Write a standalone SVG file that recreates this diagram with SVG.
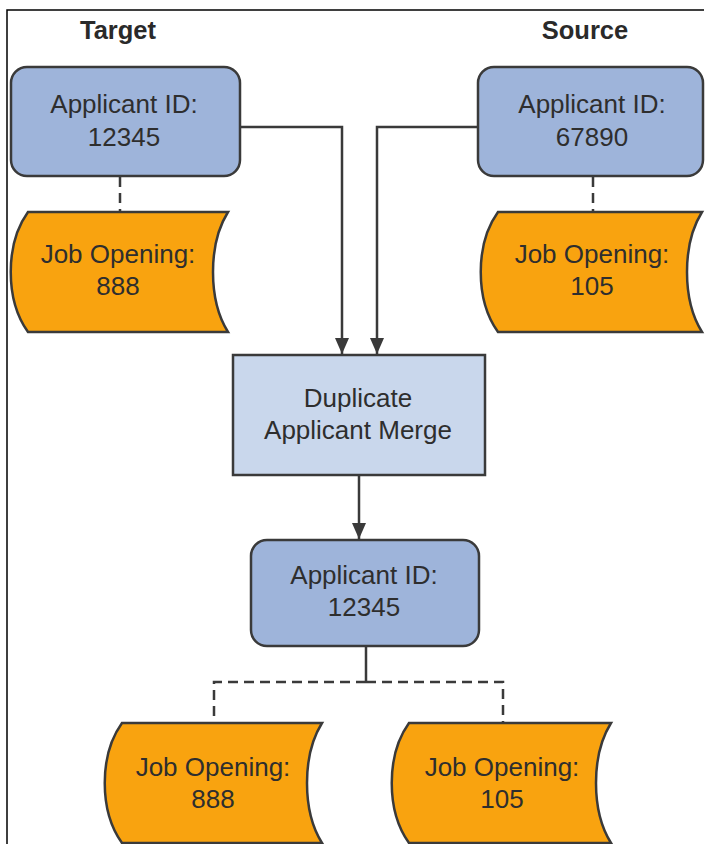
<svg xmlns="http://www.w3.org/2000/svg" width="705" height="844" viewBox="0 0 705 844">
<defs>
<style>
.frame{stroke:#000;stroke-width:1.5;fill:none}
.app{fill:#9eb4da;stroke:#3a3a3a;stroke-width:2.5}
.merge{fill:#c9d7ec;stroke:#3a3a3a;stroke-width:2.5}
.doc{fill:#f9a30f;stroke:#3a3a3a;stroke-width:2.5}
.t{font-family:"Liberation Sans",Arial,sans-serif;font-size:26px;fill:#2e2e2e;text-anchor:middle}
.h{font-family:"Liberation Sans",Arial,sans-serif;font-size:25.5px;font-weight:bold;fill:#2a2a2a;text-anchor:middle}
.solid{stroke:#3a3a3a;stroke-width:2.5;fill:none}
.dash{stroke:#3a3a3a;stroke-width:2.5;fill:none;stroke-dasharray:10 6}
</style>
<marker id="ah" markerWidth="16" markerHeight="14" refX="16" refY="7" orient="auto" markerUnits="userSpaceOnUse">
<path d="M0,0 L16,7 L0,14 Z" fill="#3a3a3a"/>
</marker>
</defs>
<path class="frame" d="M7,844 L7,10 L704,10"/>
<text class="h" x="118" y="39">Target</text>
<text class="h" x="585" y="39">Source</text>
<g id="connectors">
<path class="solid" d="M240,127 L342,127 L342,354" marker-end="url(#ah)"/>
<path class="solid" d="M477,127 L377,127 L377,354" marker-end="url(#ah)"/>
<path class="solid" d="M359,476 L359,539" marker-end="url(#ah)"/>
<path class="dash" d="M120,177 L120,212"/>
<path class="dash" d="M593,177 L593,212"/>
<path class="solid" d="M366,646 L366,682"/>
<path class="dash" d="M366,682 L214,682 L214,723"/>
<path class="dash" d="M366,682 L503,682 L503,723"/>
</g>
<g id="target-applicant">
<rect class="app" x="11" y="67" width="229" height="109" rx="16"/>
<text class="t" x="124" y="113">Applicant ID:</text>
<text class="t" x="124" y="146">12345</text>
</g>
<g id="target-job">
<path class="doc" d="M28,212 L228,212 C208,244 208,300 228,332 L28,332 C5,300 5,244 28,212 Z"/>
<text class="t" x="118" y="263">Job Opening:</text>
<text class="t" x="118" y="295">888</text>
</g>
<g id="source-applicant">
<rect class="app" x="478" y="67" width="225" height="109" rx="16"/>
<text class="t" x="592" y="113">Applicant ID:</text>
<text class="t" x="592" y="146">67890</text>
</g>
<g id="source-job">
<path class="doc" d="M498,212 L702,212 C682,244 682,300 702,332 L498,332 C475,300 475,244 498,212 Z"/>
<text class="t" x="592" y="263">Job Opening:</text>
<text class="t" x="592" y="295">105</text>
</g>
<g id="merge">
<rect class="merge" x="233" y="355" width="252" height="120"/>
<text class="t" x="358" y="407">Duplicate</text>
<text class="t" x="358" y="439">Applicant Merge</text>
</g>
<g id="result-applicant">
<rect class="app" x="251" y="540" width="228" height="106" rx="16"/>
<text class="t" x="364" y="584">Applicant ID:</text>
<text class="t" x="364" y="616">12345</text>
</g>
<g id="result-job-888">
<path class="doc" d="M122,723 L322,723 C302,755 302,811 322,843 L122,843 C99,811 99,755 122,723 Z"/>
<text class="t" x="213" y="776">Job Opening:</text>
<text class="t" x="213" y="808">888</text>
</g>
<g id="result-job-105">
<path class="doc" d="M409,723 L611,723 C591,755 591,811 611,843 L409,843 C386,811 386,755 409,723 Z"/>
<text class="t" x="502" y="776">Job Opening:</text>
<text class="t" x="502" y="808">105</text>
</g>
</svg>
